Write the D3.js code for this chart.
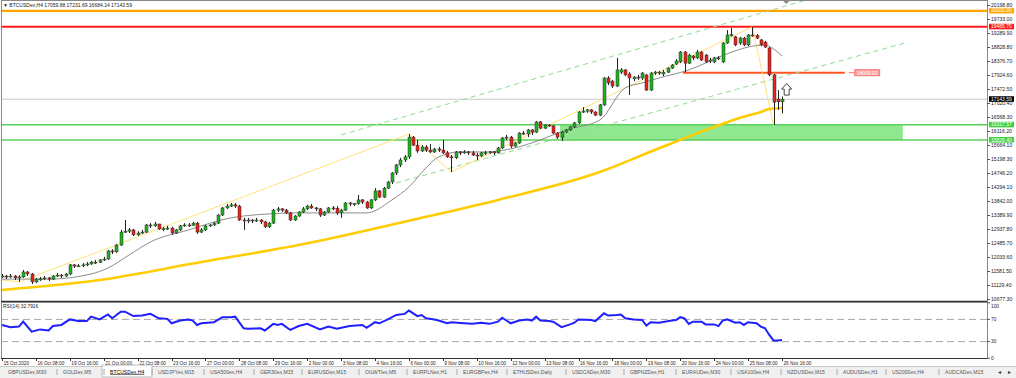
<!DOCTYPE html>
<html>
<head>
<meta charset="utf-8">
<script src="https://cdn.jsdelivr.net/npm/d3@7"></script>
<style>
  body { margin: 0; background: #fff; overflow: hidden; }
  text { font-family: "Liberation Sans", Arial, sans-serif; }
</style>
</head>
<body>
<div id="chart"></div>
<script>
// BTCUSDex H4 bars, 15 Oct 2020 00:00 .. 26 Nov 2020 16:00
const opens = [
  11400,11430,11400,11430,11370,11400,11560,11495,11240,11330,
  11340,11370,11330,11430,11460,11430,11495,11790,11750,11760,
  11790,11820,11880,11870,11950,11980,12240,12210,12430,12850,
  12880,12920,12760,12820,12850,13080,13050,13110,12950,12960,
  12980,12820,12920,13050,13080,13070,13140,12850,12920,13050,
  13080,13140,13400,13630,13690,13730,13690,13240,13210,13240,
  13210,13240,13180,13020,13140,13560,13600,13560,13470,13240,
  13370,13500,13600,13690,13630,13600,13400,13500,13630,13620,
  13470,13560,13790,13760,13770,13890,13820,13630,13890,14180,
  13980,14270,14470,14760,15020,15180,15280,15920,15660,15470,
  15600,15500,15440,15535,15500,15410,15280,15250,15440,15410,
  15440,15410,15340,15310,15410,15420,15440,15410,15570,15890,
  15920,15630,15730,16050,16020,16150,16080,16410,16210,16310,
  16280,16050,15920,16080,16150,16250,16380,16730,16760,16800,
  16730,16630,16960,17830,17730,17570,18020,18090,17960,17800,
  17860,17830,17930,17440,17990,18020,17960,18020,18150,18280,
  18350,18670,18310,18540,18480,18670,18570,18380,18350,18480,
  18350,18960,19220,19160,18960,19120,18900,19220,19200,19060,
  18990,18800,17930,17150,17059.88
];
const highs = [
  11495,11460,11495,11460,11460,11625,11590,11530,11370,11400,
  11430,11400,11460,11530,11495,11530,11820,11820,11820,11850,
  11880,11915,11950,11980,12050,12270,12300,12460,12920,13240,
  12980,12950,12880,12920,13110,13140,13180,13120,13020,13050,
  13020,12950,13080,13140,13140,13180,13180,12980,13080,13110,
  13180,13430,13660,13760,13790,13790,13730,13310,13310,13270,
  13310,13270,13210,13180,13600,13660,13630,13600,13500,13400,
  13530,13660,13730,13760,13660,13630,13530,13660,13690,13690,
  13600,13820,13820,13790,14050,13920,13850,13920,14270,14210,
  14310,14500,14790,15050,15250,15340,16020,15955,15830,15660,
  15660,15700,15570,15600,15830,15470,15340,15470,15470,15500,
  15470,15470,15410,15440,15470,15470,15470,15600,15920,15990,
  15955,15760,16080,16120,16180,16180,16440,16440,16340,16340,
  16310,16080,16120,16180,16280,16410,16760,16890,16830,16830,
  16760,16990,17860,17890,17770,18480,18150,18120,18020,17890,
  17930,18020,17960,18020,18060,18060,18090,18180,18280,18440,
  18700,18700,18610,18570,18740,18700,18610,18480,18510,18540,
  18990,19380,19450,19190,19160,19160,19250,19485.7,19250,19090,
  19030,18830,17960,17440,17231.69
];
const lows = [
  11370,11330,11370,11300,11240,11370,11430,11170,11205,11270,
  11300,11270,11300,11400,11370,11400,11460,11690,11720,11720,
  11750,11790,11820,11850,11915,11950,12140,12180,12400,12820,
  12820,12720,12720,12790,12820,12980,13020,12920,12880,12920,
  12760,12790,12880,13020,13020,13050,12790,12820,12880,13020,
  13050,13110,13370,13600,13660,13630,13210,12920,13140,13140,
  13180,13110,12980,12980,13110,13500,13500,13430,13210,13210,
  13340,13470,13560,13600,13530,13340,13370,13470,13560,13400,
  13310,13530,13690,13690,13730,13760,13600,13600,13850,13950,
  13950,14240,14400,14690,14950,15115,15210,15630,15410,15440,
  15440,15410,15410,15440,15380,15250,14790,15210,15340,15380,
  15340,15310,15180,15280,15340,15380,15340,15380,15535,15830,
  15570,15600,15700,15990,15920,15990,16050,16180,16180,16250,
  16020,15860,15790,16050,16120,16210,16340,16700,16700,16670,
  16600,16600,16930,17600,17510,17540,17960,17890,17280,17730,
  17770,17770,17410,17410,17930,17930,17890,17990,18120,18250,
  18310,18020,18280,18410,18440,18380,18310,18310,18310,18410,
  18310,18930,19160,18860,18900,18860,18860,19160,19090,18860,
  18800,17890,16310,16800,16684.14
];
const closes = [
  11430,11400,11430,11370,11400,11560,11495,11240,11330,11340,
  11370,11330,11430,11460,11430,11495,11790,11750,11760,11790,
  11820,11880,11870,11950,11980,12240,12210,12430,12850,12880,
  12920,12760,12820,12850,13080,13050,13110,12950,12960,12980,
  12820,12920,13050,13080,13070,13140,12850,12920,13050,13080,
  13140,13400,13630,13690,13730,13690,13240,13210,13240,13210,
  13240,13180,13020,13140,13560,13600,13560,13470,13240,13370,
  13500,13600,13690,13630,13600,13400,13500,13630,13620,13470,
  13560,13790,13760,13770,13890,13820,13630,13890,14180,13980,
  14270,14470,14760,15020,15180,15280,15920,15660,15470,15600,
  15500,15440,15535,15500,15410,15280,15250,15440,15410,15440,
  15410,15340,15310,15410,15420,15440,15410,15570,15890,15920,
  15630,15730,16050,16020,16150,16080,16410,16210,16310,16280,
  16050,15920,16080,16150,16250,16380,16730,16760,16800,16730,
  16630,16960,17830,17670,17570,18090,18090,17930,17830,17860,
  17830,17990,17440,17990,18020,17990,18020,18150,18250,18380,
  18670,18310,18570,18480,18670,18410,18350,18410,18480,18470,
  18960,19220,19230,18900,19120,18900,19220,19200,19120,18900,
  18830,17930,17050,17060,17143.59
];

// moving averages, read at a few bars
const fastMaBars = [0,11,21,25,30,35,44,54,62,70,86,92,96,100,103,108,114,121,127,133,141,147,151,155,162,171,176,180,182,184];
const fastMaVals = [11330,11330,11495,11690,12110,12530,12920,13310,13430,13470,13470,13890,14310,14920,15280,15440,15440,15570,15830,16150,16470,17510,17670,17830,18090,18610,18830,18900,18770,18540];
const slowMaBars = [0,23,47,70,99,117,141,154,168,174,179,181,184];
const slowMaVals = [10978,11300,11880,12430,13310,13890,14790,15500,16250,16540,16730,16830,16860];

// zigzag swing points
const zzBars = [0,4,96,106,177,182];
const zzVals = [11300,11240,16020,14790,19485.7,16310];

// channel lines [bar, price] ends
const channelBars = [[80,190],[93,213]];
const channelVals = [[15990,20360],[14440,18960]];

// RSI(14) read at bars
const rsiBars = [0,2,4,5,7,9,11,12,14,16,18,20,21,23,25,26,28,29,31,33,35,37,39,40,42,44,45,46,47,50,52,54,55,57,58,61,62,64,65,66,68,70,72,75,77,79,82,85,86,88,89,91,93,95,96,98,99,100,102,103,105,106,109,111,113,115,117,118,120,122,124,125,126,127,129,130,132,134,135,136,139,140,142,143,145,146,147,149,151,152,153,155,158,159,160,161,162,163,165,166,168,169,170,171,173,174,175,176,178,179,180,181,182,183,184];
const rsiVals = [60,56,57,66,48,52,50,58,60,70,67,67,75,70,79,72,84,84,76,77,80,72,71,63,68,70,68,60,63,65,74,74,75,54,53,54,50,62,60,62,51,58,62,52,57,53,58,60,55,65,63,70,78,80,86,76,78,72,70,68,63,65,63,62,64,62,66,73,63,68,70,68,75,68,67,66,56,61,64,70,69,67,81,77,78,79,72,70,69,59,65,64,68,69,74,72,62,66,66,61,61,58,68,70,64,65,60,65,63,57,54,42,32,32,32.79];

// time axis labels, one every 8 bars
const timeLabels = ["15 Oct 2020","16 Oct 08:00","19 Oct 16:00","21 Oct 00:00","22 Oct 08:00","23 Oct 16:00",
  "27 Oct 00:00","28 Oct 08:00","29 Oct 16:00","2 Nov 00:00","3 Nov 08:00","4 Nov 16:00","6 Nov 00:00",
  "9 Nov 08:00","10 Nov 16:00","12 Nov 00:00","13 Nov 08:00","16 Nov 16:00","18 Nov 00:00","19 Nov 08:00",
  "20 Nov 16:00","24 Nov 00:00","25 Nov 08:00","26 Nov 16:00"];
const priceTicks = [20198.80,19733.00,19289.90,18828.80,18376.70,17924.60,17472.50,17020.40,16568.30,16116.20,
  15664.10,15198.30,14746.20,14294.10,13842.00,13389.90,12937.80,12485.70,12033.60,11581.50,11129.40,10677.30];
const rsiTicks = [100,70,30,0];

// horizontal levels
const levelVals = [20000, 19485.70, 17143.59, 16317.57, 15826.40];
const levelNames = ["orange", "red", "bid", "zoneTop", "zoneBottom"];
const resistVal = 18000.00;
const resistBars = [160.6, 198.8];
const zoneBars = [131.6, 212.5];
const arrowAt = [185.1, 17650];

const tabs = ["GBPUSDex,M30","GOLDex,M5","BTCUSDex,H4","USDJPYex,M15","USA500ex,H4","GER30ex,M15","EURUSDex,M15",
  "OILWTIex,M5","EURPLNex,H1","EURGBPex,H4","ETHUSDex,Daily","USDCADex,M30","GBPNZDex,H1","EURAUDex,M30",
  "USA100ex,H4","NZDUSDex,M15","AUDUSDex,H1","US2000ex,H4","AUDCADex,M15"];

const width = 1016, height = 378;
const plotL = 1, plotR = 987, plotT = 1, plotB = 301;
const rsiT = 302, rsiB = 358;

const x = d3.scaleLinear().domain([0, 184]).range([2, 782]);
const y = d3.scaleLinear().domain([10677.3, 20198.8]).range([299.3, 4.7]);
const yr = d3.scaleLinear().domain([0, 100]).range([358.2, 302.8]);
const fmt = d3.format(".2f");

const svg = d3.select("#chart").append("svg")
  .attr("width", width).attr("height", height)
  .attr("viewBox", [0, 0, width, height]);

svg.append("rect").attr("width", width).attr("height", height).attr("fill", "#fff");

svg.append("clipPath").attr("id", "main-clip")
  .append("rect").attr("x", plotL).attr("y", plotT).attr("width", plotR - plotL).attr("height", plotB - plotT);
svg.append("clipPath").attr("id", "rsi-clip")
  .append("rect").attr("x", plotL).attr("y", rsiT).attr("width", plotR - plotL).attr("height", rsiB - rsiT);

const main = svg.append("g").attr("clip-path", "url(#main-clip)");

// green zone
main.append("rect")
  .attr("x", x(zoneBars[0])).attr("width", x(zoneBars[1]) - x(zoneBars[0]))
  .attr("y", y(levelVals[3])).attr("height", y(levelVals[4]) - y(levelVals[3]))
  .attr("fill", "#8fe88f");

const levelColor = { orange: "#ffa500", red: "#ff1a1a", bid: "#c8c8c8", zoneTop: "#5ad15a", zoneBottom: "#5ad15a" };
const levelWidth = { orange: 2.2, red: 2.2, bid: 1, zoneTop: 1.5, zoneBottom: 1.5 };

main.selectAll("line.level")
  .data(levelVals)
  .join("line")
  .attr("class", "level")
  .attr("x1", plotL).attr("x2", plotR)
  .attr("y1", d => y(d)).attr("y2", d => y(d))
  .attr("stroke", (d, i) => levelColor[levelNames[i]])
  .attr("stroke-width", (d, i) => levelWidth[levelNames[i]]);

// 18000 line with its label
main.append("line")
  .attr("x1", x(resistBars[0])).attr("x2", x(resistBars[1]))
  .attr("y1", y(resistVal)).attr("y2", y(resistVal))
  .attr("stroke", "#ff5522").attr("stroke-width", 2);
main.append("line")
  .attr("x1", x(resistBars[1]) + 4).attr("x2", x(resistBars[1]) + 10)
  .attr("y1", y(resistVal)).attr("y2", y(resistVal))
  .attr("stroke", "#ff7070").attr("stroke-width", 1);
main.append("rect")
  .attr("x", x(resistBars[1]) + 10).attr("y", y(resistVal) - 3)
  .attr("width", 25).attr("height", 6)
  .attr("fill", "#ffa0a0").attr("stroke", "#ff6060").attr("stroke-width", 0.8);
main.append("text")
  .attr("x", x(resistBars[1]) + 22.5).attr("y", y(resistVal) + 1.9)
  .attr("text-anchor", "middle").attr("font-size", 5).attr("fill", "#fff")
  .text(fmt(resistVal));

// channel (dashed)
main.selectAll("line.channel")
  .data(channelBars)
  .join("line")
  .attr("class", "channel")
  .attr("x1", d => x(d[0])).attr("x2", d => x(d[1]))
  .attr("y1", (d, i) => y(channelVals[i][0])).attr("y2", (d, i) => y(channelVals[i][1]))
  .attr("stroke", "#8fdc8f").attr("stroke-width", 1).attr("stroke-dasharray", "5,4");

// zigzag
main.append("path")
  .datum(zzBars)
  .attr("fill", "none").attr("stroke", "#ffe27a").attr("stroke-width", 1)
  .attr("d", d3.line().x(d => x(d)).y((d, i) => y(zzVals[i])));

// moving averages
main.append("path")
  .datum(slowMaBars)
  .attr("fill", "none").attr("stroke", "#ffcc00").attr("stroke-width", 2.6)
  .attr("d", d3.line().curve(d3.curveMonotoneX).x(d => x(d)).y((d, i) => y(slowMaVals[i])));
main.append("path")
  .datum(fastMaBars)
  .attr("fill", "none").attr("stroke", "#8c8c8c").attr("stroke-width", 1)
  .attr("d", d3.line().curve(d3.curveMonotoneX).x(d => x(d)).y((d, i) => y(fastMaVals[i])));

// candles
const candles = main.append("g").selectAll("g")
  .data(d3.range(closes.length))
  .join("g");
candles.append("line")
  .attr("x1", i => Math.round(x(i)) + 0.5).attr("x2", i => Math.round(x(i)) + 0.5)
  .attr("y1", i => y(highs[i])).attr("y2", i => y(lows[i]))
  .attr("stroke", "#222").attr("stroke-width", 1);
candles.append("rect")
  .attr("x", i => Math.round(x(i)) - 1)
  .attr("width", 3)
  .attr("y", i => y(Math.max(opens[i], closes[i])))
  .attr("height", i => Math.max(1, Math.abs(y(opens[i]) - y(closes[i]))))
  .attr("fill", i => closes[i] >= opens[i] ? "#1db31d" : "#e8201a")
  .attr("stroke", "#333").attr("stroke-width", 0.5);

// hollow up arrow
const ax = x(arrowAt[0]), ay = y(arrowAt[1]);
main.append("path")
  .attr("d", `M${ax},${ay} l5,5.5 h-2.5 v6 h-5 v-6 h-2.5 z`)
  .attr("fill", "#fff").attr("stroke", "#444").attr("stroke-width", 1);

// frames
svg.append("rect").attr("x", plotL + 0.5).attr("y", 0.5).attr("width", plotR - plotL).attr("height", plotB)
  .attr("fill", "none").attr("stroke", "#888");
svg.append("line").attr("x1", plotL).attr("x2", plotR).attr("y1", plotB + 0.5).attr("y2", plotB + 0.5)
  .attr("stroke", "#333").attr("stroke-width", 1.5);

// header
svg.append("text").attr("x", 3).attr("y", 6.5).attr("font-size", 5).attr("fill", "#222")
  .text("\u25BC BTCUSDex,H4  17059.88 17231.69 16684.14 17143.59");
svg.append("path").attr("d", `M${x(185)},1 l-3,0 l3,3 l3,-3 z`).attr("fill", "#888");

// price axis
const pAxis = svg.append("g");
pAxis.selectAll("line").data(priceTicks).join("line")
  .attr("x1", plotR).attr("x2", plotR + 3)
  .attr("y1", d => Math.round(y(d)) + 0.5).attr("y2", d => Math.round(y(d)) + 0.5)
  .attr("stroke", "#555");
pAxis.selectAll("text").data(priceTicks).join("text")
  .attr("x", plotR + 4).attr("y", d => y(d) + 1.8)
  .attr("font-size", 5.1).attr("fill", "#222")
  .text(d => fmt(d));

// coloured price tags
const tagFill = { orange: "#ffa500", red: "#ff1a1a", bid: "#000", zoneTop: "#3fd13f", zoneBottom: "#3fd13f" };
const tags = svg.append("g").selectAll("g").data(levelVals).join("g");
tags.append("rect")
  .attr("x", plotR + 2).attr("y", d => y(d) - 3)
  .attr("width", 25).attr("height", 5.6)
  .attr("fill", (d, i) => tagFill[levelNames[i]]);
tags.append("text")
  .attr("x", plotR + 4).attr("y", d => y(d) + 1.6)
  .attr("font-size", 5).attr("fill", "#fff")
  .text(d => fmt(d));

// RSI panel
const rsiG = svg.append("g");
rsiG.append("rect").attr("x", plotL + 0.5).attr("y", rsiT + 0.5).attr("width", plotR - plotL).attr("height", rsiB - rsiT)
  .attr("fill", "none").attr("stroke", "#888");
rsiG.append("line").attr("x1", plotL).attr("x2", plotR).attr("y1", rsiB + 0.5).attr("y2", rsiB + 0.5)
  .attr("stroke", "#333").attr("stroke-width", 1.2);
rsiG.selectAll("line.lvl").data([70, 30]).join("line").attr("class", "lvl")
  .attr("x1", plotL).attr("x2", plotR)
  .attr("y1", d => yr(d)).attr("y2", d => yr(d))
  .attr("stroke", "#a8a8a8").attr("stroke-width", 1).attr("stroke-dasharray", "7,4");
rsiG.append("g").attr("clip-path", "url(#rsi-clip)").append("path")
  .datum(rsiBars)
  .attr("fill", "none").attr("stroke", "#1f1fff").attr("stroke-width", 2)
  .attr("d", d3.line().x(d => x(d)).y((d, i) => yr(rsiVals[i])));
rsiG.append("text").attr("x", 3).attr("y", rsiT + 5.5).attr("font-size", 4.8).attr("fill", "#222")
  .text("RSI(14) 32.7916");
rsiG.selectAll("text.tick").data(rsiTicks).join("text").attr("class", "tick")
  .attr("x", plotR + 4).attr("y", d => Math.max(yr(d) + 1.8, rsiT + 5.6))
  .attr("font-size", 4.8).attr("fill", "#222")
  .text(d => d);
rsiG.selectAll("line.tick").data(rsiTicks).join("line").attr("class", "tick")
  .attr("x1", plotR).attr("x2", plotR + 3)
  .attr("y1", d => yr(d)).attr("y2", d => yr(d)).attr("stroke", "#555");

// time axis
const tAxis = svg.append("g");
tAxis.selectAll("line").data(timeLabels).join("line")
  .attr("x1", (d, i) => Math.round(x(i * 8)) + 0.5).attr("x2", (d, i) => Math.round(x(i * 8)) + 0.5)
  .attr("y1", rsiB).attr("y2", rsiB + 3).attr("stroke", "#333");
tAxis.selectAll("text").data(timeLabels).join("text")
  .attr("x", (d, i) => x(i * 8) + 1.5).attr("y", rsiB + 6.5)
  .attr("font-size", 4.7).attr("fill", "#222")
  .text(d => d);

// tab strip
const tabY = 366;
svg.append("rect").attr("x", 0).attr("y", tabY).attr("width", width).attr("height", height - tabY).attr("fill", "#f0f0f0");
svg.append("line").attr("x1", 0).attr("x2", width).attr("y1", tabY + 0.5).attr("y2", tabY + 0.5).attr("stroke", "#c8c8c8");
const tabX = [8,63,110,158,210,260,308,365,413,463,513,572,630,682,737,787,843,892,945];
svg.append("rect").attr("x", 102).attr("y", tabY - 1).attr("width", 50).attr("height", 12)
  .attr("fill", "#fff").attr("stroke", "#aaa").attr("stroke-width", 0.8);
svg.append("g").selectAll("text").data(tabs).join("text")
  .attr("x", (d, i) => tabX[i]).attr("y", tabY + 7.5)
  .attr("font-size", 5.1).attr("fill", (d, i) => i === 2 ? "#000" : "#555")
  .attr("text-decoration", (d, i) => i === 2 ? "underline" : null)
  .text(d => d);
svg.append("g").selectAll("line").data(tabX.slice(1)).join("line")
  .attr("x1", d => d - 6).attr("x2", d => d - 6)
  .attr("y1", tabY + 3).attr("y2", tabY + 9).attr("stroke", "#aaa");
svg.append("text").attr("x", 998).attr("y", tabY + 7.5).attr("font-size", 6).attr("fill", "#333").text("\u25C2");
svg.append("text").attr("x", 1008).attr("y", tabY + 7.5).attr("font-size", 6).attr("fill", "#333").text("\u25B8");
</script>
</body>
</html>
